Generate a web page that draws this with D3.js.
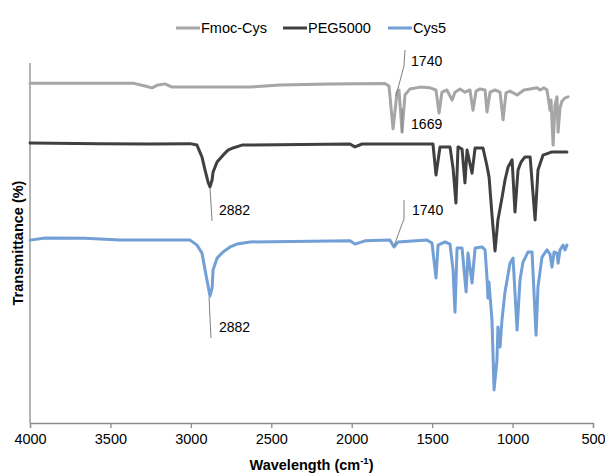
<!DOCTYPE html>
<html>
<head>
<meta charset="utf-8">
<script src="https://cdn.jsdelivr.net/npm/d3@7"></script>
<style>
body{margin:0;background:#fff;font-family:"Liberation Sans",Arial,sans-serif;}
</style>
</head>
<body>
<div class="ftir-chart"></div>
<script>
// wavenumber (cm-1) and transmittance (offset, arbitrary %)
const fmocWave = [4000,3360,3285,3242,3204,3161,3117,2943,2632,2446,2135,1793,1768,1743,1718,1706,1687,1669,1638,1575,1513,1476,1457,1439,1408,1376,1358,1327,1296,1265,1246,1227,1202,1171,1159,1140,1109,1078,1059,1041,1016,972,929,891,848,829,804,786,767,761,748,736,724,717,705,693,674,655];
const fmocT    = [94.4,94.4,93.6,93.1,93.9,94.2,93.3,93.3,93.3,93.9,94.2,94.3,93.6,81.7,91.9,92.5,80.8,91.1,92.8,93.3,93.1,92.5,86.1,91.9,92.5,89.7,91.9,92.8,91.9,92.5,86.9,92.2,92.8,92.5,86.4,91.9,92.5,91.9,84.2,91.7,92.2,91.1,92.5,92.8,93.1,92.5,93.1,92.5,86.9,89.7,77.2,88.3,90.6,80.8,87.5,89.4,90.3,90.6];

const pegWave = [4000,3565,3254,3005,2962,2931,2912,2893,2881,2868,2862,2837,2800,2769,2738,2682,2011,1980,1936,1495,1476,1451,1389,1370,1352,1339,1314,1296,1283,1252,1233,1184,1159,1146,1128,1109,1091,1066,1047,1028,1003,985,966,947,923,891,860,842,811,755,662];
const pegT    = [77.8,77.6,77.5,77.6,77.2,73.9,70.3,66.9,65.6,67.5,69.7,72.5,74.4,75.8,76.4,77.2,77.5,76.7,77.5,77.5,68.9,76.7,76.7,70.8,61.1,76.7,76.1,66.7,75.8,69.4,76.4,76.4,71.4,68.3,57.8,47.8,56.4,62.5,67.5,71.1,73.1,58.6,70.3,72.5,73.9,73.9,56.4,70.3,74.4,75.3,75.3];

const cysWave = [4000,3907,3658,3440,3005,2962,2931,2900,2881,2868,2862,2837,2800,2756,2713,2632,2011,1980,1917,1762,1737,1712,1532,1501,1476,1463,1420,1389,1370,1358,1345,1314,1289,1277,1252,1233,1190,1171,1159,1153,1147,1128,1115,1097,1091,1078,1066,1047,1016,997,972,954,935,904,879,854,842,817,786,767,755,742,724,717,705,686,674,662];
const cysT    = [50.8,51.4,51.3,50.8,50.8,49.4,47.2,39.7,35.3,37.5,42.5,45.8,47.5,48.9,49.7,50.3,50.6,49.7,50.6,50.8,48.9,50.3,50.8,50.0,40.3,49.4,50.3,49.7,42.5,30.8,48.6,48.6,36.4,47.2,38.9,48.6,48.9,48.1,40.3,34.7,39.2,28.6,9.2,17.5,26.7,21.1,28.6,36.4,44.4,45.8,25.8,39.7,44.7,47.5,47.5,24.4,37.8,46.1,48.1,46.9,43.3,47.5,47.2,44.4,48.1,49.4,48.1,49.4];

const seriesNames = ['Fmoc-Cys','PEG5000','Cys5'];
const seriesColors = ['#a6a6a6','#404040','#729fd6'];
const xTicks = [4000,3500,3000,2500,2000,1500,1000,500];

// peak labels: leader line points (wavenumber, T) and label anchor
const peakLabels = ['1740','1669','2882','1740','2882'];
const peakLeaderW = [[1669,1675,1725],[1687,1687],[2881,2868],[1737,1675,1675],[2887,2875]];
const peakLeaderT = [[103.6,99.2,90.8],[87.5,80.6],[65.3,56.1],[49.2,56.7,61.9],[35.0,23.6]];
const peakTextW = [1631,1631,2825,1625,2825];
const peakTextT = [100.6,83.1,59.2,59.2,26.7];

const w = 605, h = 475;
const margin = {left:30, right:12, top:63, bottom:52};

const svg = d3.select('.ftir-chart')
  .append('svg')
  .attr('width', w)
  .attr('height', h);

const x = d3.scaleLinear().domain([4000,500]).range([margin.left, w-margin.right]);
const y = d3.scaleLinear().domain([0,100]).range([h-margin.bottom, margin.top]);

// axes
svg.append('line')
  .attr('x1', x(4000)).attr('x2', x(4000))
  .attr('y1', y(100)).attr('y2', y(0))
  .attr('stroke', '#8c8c8c').attr('stroke-width', 1.3);

const xAxis = svg.append('g')
  .attr('transform', `translate(0,${y(0)})`)
  .call(d3.axisBottom(x).tickValues(xTicks).tickSize(5).tickPadding(6).tickFormat(d3.format('d')));
xAxis.select('.domain').attr('stroke','#8c8c8c').attr('stroke-width',1.3);
xAxis.selectAll('.tick line').attr('stroke','#8c8c8c').attr('stroke-width',1.3);
xAxis.selectAll('.tick text')
  .attr('fill','#000')
  .attr('font-family','"Liberation Sans",Arial,sans-serif')
  .attr('font-size',14.5);

// axis titles
const xt = svg.append('text')
  .attr('x', (x(4000)+x(500))/2)
  .attr('y', 470)
  .attr('text-anchor','middle')
  .attr('font-weight','bold')
  .attr('font-size',14.5)
  .attr('fill','#000');
xt.append('tspan').text('Wavelength (cm');
xt.append('tspan').attr('font-size',9.5).attr('dy',-6).text('-1');
xt.append('tspan').attr('dy',6).text(')');

svg.append('text')
  .attr('transform', `translate(23,${(y(0)+y(100))/2}) rotate(-90)`)
  .attr('text-anchor','middle')
  .attr('font-weight','bold')
  .attr('font-size',14.5)
  .attr('fill','#000')
  .text('Transmittance (%)');

// spectra
const line = d3.line().x(d=>x(d[0])).y(d=>y(d[1]));
const allWave = [fmocWave, pegWave, cysWave];
const allT = [fmocT, pegT, cysT];

allWave.forEach((wv,i)=>{
  const pts = wv.map((d,j)=>[d, allT[i][j]]);
  svg.append('path')
    .datum(pts)
    .attr('d', line)
    .attr('fill','none')
    .attr('stroke', seriesColors[i])
    .attr('stroke-width', 3)
    .attr('stroke-linejoin','round')
    .attr('stroke-linecap','round');
});

// peak annotations
peakLabels.forEach((lab,i)=>{
  const pts = peakLeaderW[i].map((d,j)=>[d, peakLeaderT[i][j]]);
  svg.append('path')
    .datum(pts)
    .attr('d', line)
    .attr('fill','none')
    .attr('stroke','#7f7f7f')
    .attr('stroke-width',1);
  svg.append('text')
    .attr('x', x(peakTextW[i]))
    .attr('y', y(peakTextT[i]))
    .attr('dy','0.35em')
    .attr('font-size',14)
    .attr('fill','#000')
    .text(lab);
});

// legend
const legendX = [176, 283, 388];
const legend = svg.selectAll('g.legend')
  .data(seriesNames)
  .enter()
  .append('g')
  .attr('class','legend')
  .attr('transform',(d,i)=>`translate(${legendX[i]},28)`);
legend.append('line')
  .attr('x1',0).attr('x2',24)
  .attr('stroke',(d,i)=>seriesColors[i])
  .attr('stroke-width',3);
legend.append('text')
  .attr('x',25)
  .attr('dy','0.35em')
  .attr('font-size',14.5)
  .attr('fill','#000')
  .text(d=>d);
</script>
</body>
</html>
